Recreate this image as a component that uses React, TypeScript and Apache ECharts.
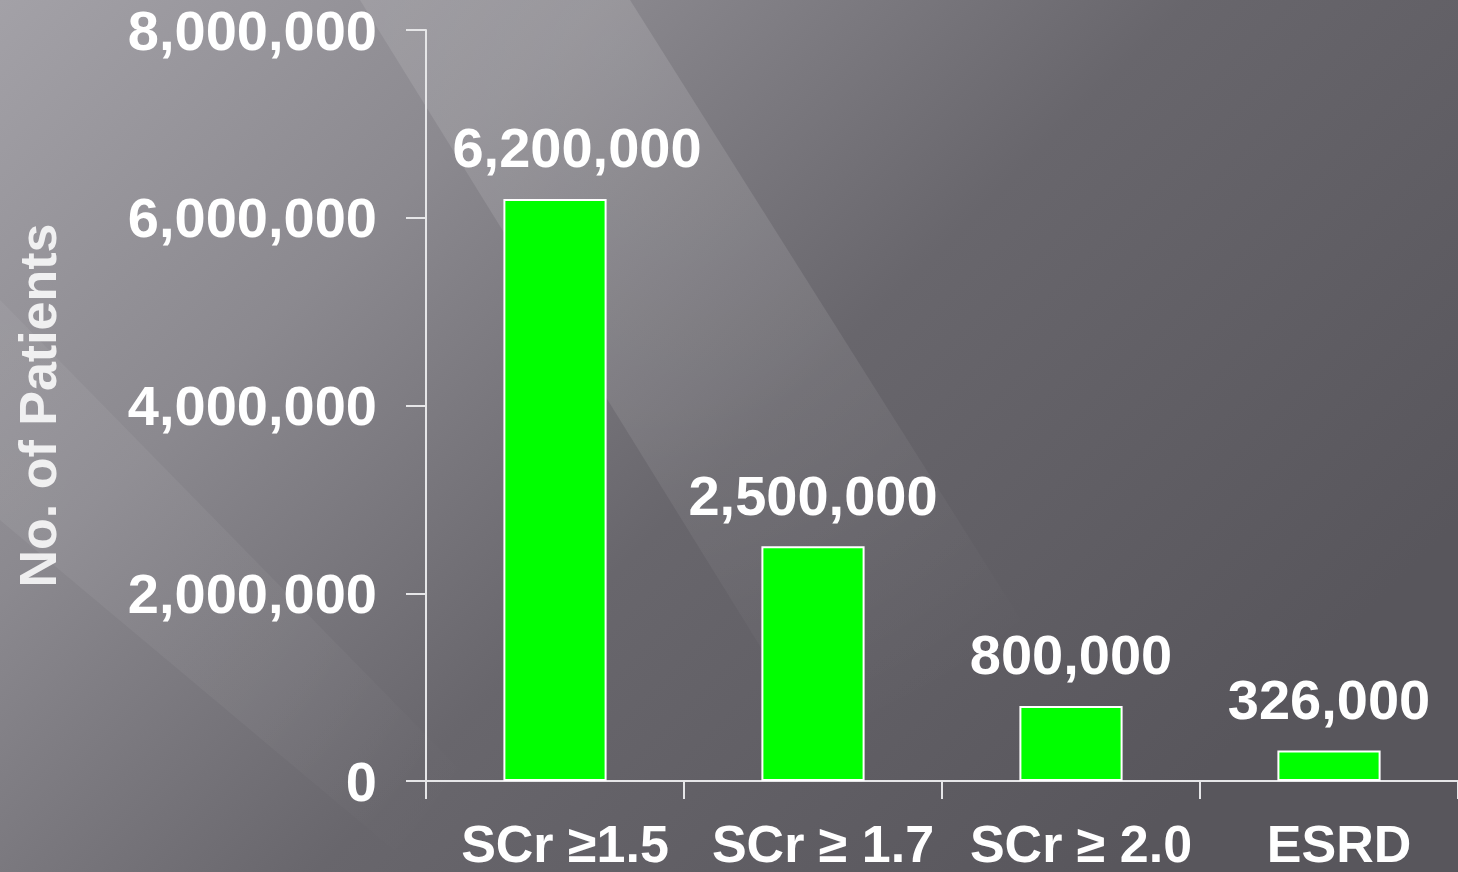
import React, { useEffect, useRef } from "react";
import * as echarts from "echarts";

const categories = ["SCr \u22651.5", "SCr \u2265 1.7", "SCr \u2265 2.0", "ESRD"];
const patients = [6200000, 2500000, 800000, 326000];
const yTicks = { min: 0, max: 8000000, interval: 2000000 };
const yName = "No. of Patients";

const W = 1458;
const H = 872;

function fmt(v: number): string {
  return String(v).replace(/\B(?=(\d{3})+(?!\d))/g, ",");
}

export default function App() {
  const ref = useRef<HTMLDivElement>(null);
  useEffect(() => {
    if (!ref.current) return;
    const chart = echarts.init(ref.current, null, { renderer: "svg" });
    const font = "'Liberation Sans', Arial, Helvetica, sans-serif";
    chart.setOption({
      animation: false,
      graphic: [
        {
          type: "rect",
          silent: true,
          z: -10,
          shape: { x: 0, y: 0, width: W, height: H },
          style: {
            fill: new echarts.graphic.LinearGradient(0, 0, 1, 0.6, [
              { offset: 0, color: "#a3a1a7" },
              { offset: 0.3, color: "#8b898f" },
              { offset: 0.6, color: "#68666c" },
              { offset: 1, color: "#58565c" },
            ]),
          },
        },
        {
          type: "polygon",
          silent: true,
          z: -9,
          shape: { points: [[360, 0], [630, 0], [1180, 872], [900, 872]] },
          style: {
            fill: new echarts.graphic.RadialGradient(0.3, 0.05, 0.85, [
              { offset: 0, color: "rgba(255,255,255,0.13)" },
              { offset: 0.5, color: "rgba(255,255,255,0.09)" },
              { offset: 0.8, color: "rgba(255,255,255,0.03)" },
              { offset: 1, color: "rgba(255,255,255,0)" },
            ]),
          },
        },
        {
          type: "polygon",
          silent: true,
          z: -9,
          shape: { points: [[0, 300], [0, 520], [420, 872], [560, 872]] },
          style: {
            fill: new echarts.graphic.RadialGradient(0, 0.3, 1, [
              { offset: 0, color: "rgba(255,255,255,0.06)" },
              { offset: 0.6, color: "rgba(255,255,255,0.04)" },
              { offset: 1, color: "rgba(255,255,255,0)" },
            ]),
          },
        },
      ],
      grid: { left: 426, right: 0, top: 30, bottom: 91, containLabel: false },
      xAxis: {
        type: "category",
        data: categories,
        axisLine: { lineStyle: { color: "#e6e6e8", width: 2 } },
        axisTick: { show: true, length: 18, lineStyle: { color: "#e6e6e8", width: 2 } },
        axisLabel: {
          color: "#ffffff",
          fontFamily: font,
          fontWeight: "bold",
          fontSize: 52,
          margin: 37,
          interval: 0,
          padding: [0, 0, 0, 20],
        },
      },
      yAxis: {
        type: "value",
        min: yTicks.min,
        max: yTicks.max,
        interval: yTicks.interval,
        name: yName,
        nameLocation: "middle",
        nameGap: 362,
        nameRotate: 90,
        nameTextStyle: {
          color: "rgba(255,255,255,0.86)",
          fontFamily: font,
          fontWeight: "bold",
          fontSize: 52,
        },
        splitLine: { show: false },
        axisLine: { show: true, lineStyle: { color: "#e6e6e8", width: 2 } },
        axisTick: { show: true, length: 20, lineStyle: { color: "#e6e6e8", width: 2 } },
        axisLabel: {
          color: "#ffffff",
          fontFamily: font,
          fontWeight: "bold",
          fontSize: 56,
          margin: 49,
          formatter: (v: number) => fmt(v),
        },
      },
      series: [
        {
          type: "bar",
          data: patients.map((v, i) =>
            i === 0 ? { value: v, label: { offset: [22, 0] } } : v
          ),
          barWidth: "40%",
          itemStyle: { color: "#00ff00", borderColor: "#ffffff", borderWidth: 2 },
          label: {
            show: true,
            position: "top",
            distance: 23,
            color: "#ffffff",
            fontFamily: font,
            fontWeight: "bold",
            fontSize: 56,
            formatter: (p: any) => fmt(p.value),
          },
        },
      ],
    });
    return () => chart.dispose();
  }, []);
  return (
    <div
      ref={ref}
      style={{ position: "fixed", left: 0, top: 0, width: W, height: H, background: "#6a686e" }}
    />
  );
}
